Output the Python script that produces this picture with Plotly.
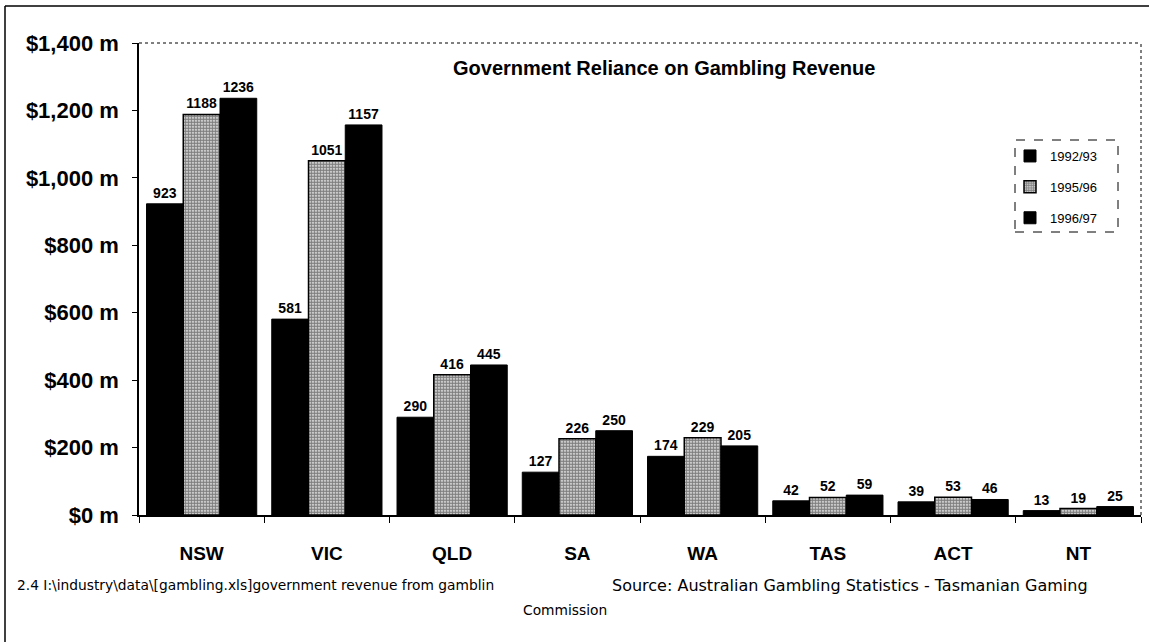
import plotly.graph_objects as go

# ---- data ----
states = ["NSW", "VIC", "QLD", "SA", "WA", "TAS", "ACT", "NT"]
rev_1992_93 = [923, 581, 290, 127, 174, 42, 39, 13]
rev_1995_96 = [1188, 1051, 416, 226, 229, 52, 53, 19]
rev_1996_97 = [1236, 1157, 445, 250, 205, 59, 46, 25]
series_names = ["1992/93", "1995/96", "1996/97"]
y_tick_vals = [0, 200, 400, 600, 800, 1000, 1200, 1400]
y_tick_text = ["$0 m", "$200 m", "$400 m", "$600 m", "$800 m", "$1,000 m", "$1,200 m", "$1,400 m"]
title_text = "Government Reliance on Gambling Revenue"
note_left = "2.4 I:\\industry\\data\\[gambling.xls]government revenue from gamblin"
note_right = "Source: Australian Gambling Statistics - Tasmanian Gaming"
note_bottom = "Commission"

FONT = "Liberation Sans, Arial, sans-serif"
NOTE_FONT = "DejaVu Sans, sans-serif"
W, H = 1149, 642
L, R, T, B = 139, 8, 43, 127
PW, PH = W - L - R, H - T - B


def px(x):
    return (x - L) / PW


def py(y):
    return (H - B - y) / PH


label_font = dict(family=FONT, size=14, color="black", weight="bold")

fig = go.Figure()
fig.add_trace(go.Bar(
    x=states, y=rev_1992_93, name=series_names[0], legendgroup="a",
    marker=dict(color="black", line=dict(color="black", width=1)),
    text=rev_1992_93, textposition="outside", textfont=label_font,
    cliponaxis=False,
))
fig.add_trace(go.Bar(
    x=states, y=rev_1995_96, name=series_names[1], legendgroup="b",
    marker=dict(color="white", line=dict(color="black", width=1.5),
                pattern=dict(shape=".", fgcolor="black", bgcolor="white",
                             size=3, solidity=0.75, fillmode="overlay")),
    text=rev_1995_96, textposition="outside", textfont=label_font,
    cliponaxis=False,
))
fig.add_trace(go.Bar(
    x=states, y=rev_1996_97, name=series_names[2], legendgroup="c",
    marker=dict(color="black", line=dict(color="black", width=1)),
    text=rev_1996_97, textposition="outside", textfont=label_font,
    cliponaxis=False,
))

fig.update_layout(
    width=W, height=H,
    margin=dict(l=L, r=R, t=T, b=B, pad=0),
    paper_bgcolor="white", plot_bgcolor="white",
    barmode="group", bargap=0.12, bargroupgap=0,
    font=dict(family=FONT, color="black"),
    showlegend=True,
    legend=dict(
        x=px(1010), y=py(141), xanchor="left", yanchor="top",
        bgcolor="rgba(0,0,0,0)", borderwidth=0,
        font=dict(family=FONT, size=13, color="black"),
        traceorder="grouped", tracegroupgap=11,
        itemwidth=30,
    ),
    xaxis=dict(
        showline=True, linecolor="black", linewidth=1.5,
        ticks="outside", tickson="boundaries", ticklen=6, tickcolor="black",
        tickfont=dict(family=FONT, size=19, color="black", weight="bold"),
        ticklabelstandoff=20,
        showgrid=False, zeroline=False,
    ),
    yaxis=dict(
        range=[0, 1400], tickvals=y_tick_vals, ticktext=y_tick_text,
        showline=True, linecolor="black", linewidth=1.5,
        ticks="outside", ticklen=5, tickcolor="black",
        tickfont=dict(family=FONT, size=22, color="black", weight="bold"),
        ticklabelstandoff=9,
        showgrid=False, zeroline=False,
    ),
)

# Title
fig.add_annotation(
    text=title_text, xref="paper", yref="paper",
    x=px(664), y=py(68), xanchor="center", yanchor="middle",
    showarrow=False,
    font=dict(family=FONT, size=20, color="black", weight="bold"),
)

# Bottom notes
fig.add_annotation(
    text=note_left, xref="paper", yref="paper",
    x=px(15), y=py(585), xanchor="left", yanchor="middle", showarrow=False,
    font=dict(family=NOTE_FONT, size=13.8, color="black"),
)
fig.add_annotation(
    text=note_right, xref="paper", yref="paper",
    x=px(610), y=py(585), xanchor="left", yanchor="middle", showarrow=False,
    font=dict(family=NOTE_FONT, size=16, color="black"),
)
fig.add_annotation(
    text=note_bottom, xref="paper", yref="paper",
    x=px(565), y=py(610), xanchor="center", yanchor="middle", showarrow=False,
    font=dict(family=NOTE_FONT, size=13.8, color="black"),
)

# Plot-area dotted top and right edges
fig.add_shape(type="line", xref="paper", yref="paper", x0=0, x1=1, y0=1, y1=1,
              line=dict(color="black", width=1, dash="dot"))
fig.add_shape(type="line", xref="paper", yref="paper", x0=1, x1=1, y0=0, y1=1,
              line=dict(color="black", width=1, dash="dot"))

# Legend dashed box
fig.add_shape(type="rect", xref="paper", yref="paper",
              x0=px(1015), x1=px(1118), y0=py(232), y1=py(140),
              line=dict(color="black", width=1, dash="dash"))

# Outer frame (left and top edges)
fig.add_shape(type="line", xref="paper", yref="paper",
              x0=px(5), x1=px(5), y0=py(6), y1=py(H),
              line=dict(color="black", width=1.5))
fig.add_shape(type="line", xref="paper", yref="paper",
              x0=px(5), x1=px(W), y0=py(6), y1=py(6),
              line=dict(color="black", width=1.5))

fig.write_html("out.html")
